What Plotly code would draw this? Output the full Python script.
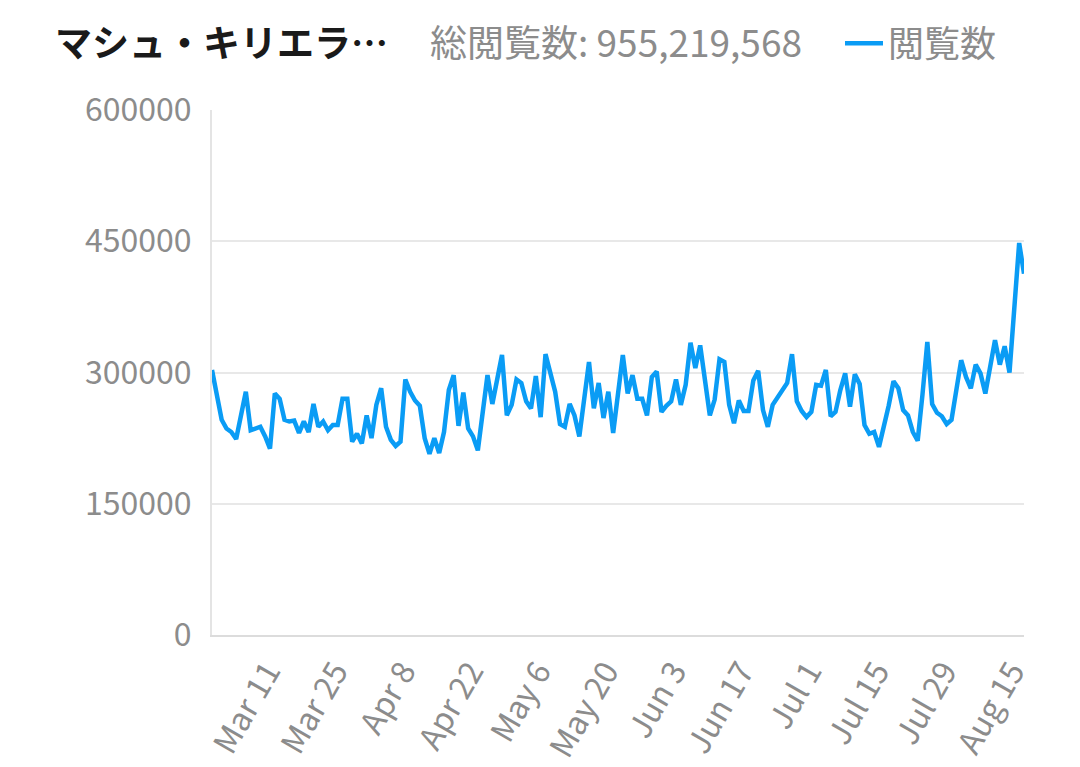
import pandas as pd
import plotly.graph_objects as go

# daily page views, Feb 26 - Aug 15 (three days missing in August)
views = [
    303000, 275000, 246000, 236000, 232000, 224000, 250000, 278000, 234000, 236000,
    238000, 227000, 213000, 276000, 270000, 246000, 244000, 245000, 231000, 244000,
    232000, 264000, 238000, 244000, 234000, 240000, 240000, 270000, 270000, 221000,
    230000, 219000, 251000, 225000, 263000, 282000, 238000, 223000, 216000, 221000,
    292000, 278000, 268000, 262000, 225000, 207000, 225000, 208000, 232000, 280000,
    297000, 239000, 277000, 236000, 227000, 211000, 252000, 297000, 264000, 292000,
    320000, 251000, 263000, 292000, 288000, 267000, 259000, 296000, 249000, 321000,
    301000, 278000, 241000, 238000, 264000, 251000, 227000, 268000, 312000, 259000,
    288000, 248000, 278000, 231000, 275000, 320000, 276000, 297000, 270000, 270000,
    251000, 295000, 301000, 255000, 262000, 267000, 292000, 263000, 286000, 334000,
    305000, 331000, 291000, 251000, 269000, 315000, 312000, 263000, 242000, 268000,
    256000, 256000, 291000, 302000, 257000, 238000, 263000, 271000, 278000, 288000,
    321000, 267000, 256000, 249000, 255000, 286000, 285000, 303000, 250000, 255000,
    280000, 299000, 261000, 298000, 287000, 240000, 230000, 232000, 215000, 238000,
    262000, 290000, 282000, 257000, 251000, 232000, 222000, 275000, 335000, 264000,
    254000, 250000, 241000, 246000, 280000, 314000, 295000, 282000, 309000, 299000,
    276000, 306000, 337000, 309000, 330000, 300000, 371000, 448000, 413000,
]

dates = list(pd.date_range("2024-02-26", "2024-07-29")) + [
    pd.Timestamp(d) for d in [
        "2024-07-30", "2024-07-31", "2024-08-01", "2024-08-02", "2024-08-03",
        "2024-08-04", "2024-08-05", "2024-08-06", "2024-08-07", "2024-08-08",
        "2024-08-09", "2024-08-13", "2024-08-14", "2024-08-15",
    ]
]
labels = [d.strftime("%b %-d") for d in dates]

tick_labels = ["Mar 11", "Mar 25", "Apr 8", "Apr 22", "May 6", "May 20",
               "Jun 3", "Jun 17", "Jul 1", "Jul 15", "Jul 29", "Aug 15"]
y_ticks = [0, 150000, 300000, 450000, 600000]

title_text = "マシュ・キリエラ…"
total_text = "総閲覧数: 955,219,568"
series_name = "閲覧数"

FONT = "Noto Sans CJK JP"
GRAY = "#8c8c8c"
BLUE = "#0a9cf5"

fig = go.Figure(go.Scatter(
    x=labels, y=views, mode="lines", name=series_name,
    line=dict(color=BLUE, width=4.5),
))

# page has an 8px body margin, so the figure is a bit smaller than the window
fig.update_layout(
    width=1072, height=759,
    margin=dict(l=204, r=56, t=102, b=132, autoexpand=False),
    paper_bgcolor="white", plot_bgcolor="white",
    font=dict(family=FONT, color=GRAY, size=30),
    showlegend=True,
    legend=dict(orientation="h", x=0.7734, y=1.127, xanchor="left", yanchor="middle",
                itemwidth=38, font=dict(size=36, color=GRAY, family=FONT),
                bgcolor="rgba(0,0,0,0)"),
    annotations=[
        dict(text="<b>" + title_text + "</b>", x=-0.196, y=1.131, xref="paper", yref="paper",
             xanchor="left", yanchor="middle", showarrow=False,
             font=dict(size=37, color="#1a1a1a", family=FONT)),
        dict(text=total_text, x=0.266, y=1.131, xref="paper", yref="paper",
             xanchor="left", yanchor="middle", showarrow=False,
             font=dict(size=37, color=GRAY, family=FONT)),
    ],
)

fig.update_xaxes(
    type="category", range=[0, len(views) - 1],
    tickmode="array", tickvals=tick_labels, ticktext=tick_labels,
    tickangle=-60, tickfont=dict(size=32, color=GRAY),
    showgrid=False, showline=True, linecolor="#dcdcdc", linewidth=2,
    ticks="", ticklabelstandoff=3, ticklabelshift=-12,
)
fig.update_yaxes(
    range=[0, 600000], tickmode="array", tickvals=y_ticks,
    ticktext=[str(v) for v in y_ticks], tickfont=dict(size=32, color=GRAY),
    showgrid=True, gridcolor="#e8e8e8", gridwidth=2,
    showline=True, linecolor="#e4e4e4", linewidth=2,
    zeroline=False, ticks="", ticklabelstandoff=12,
)

fig.write_html("out.html")
